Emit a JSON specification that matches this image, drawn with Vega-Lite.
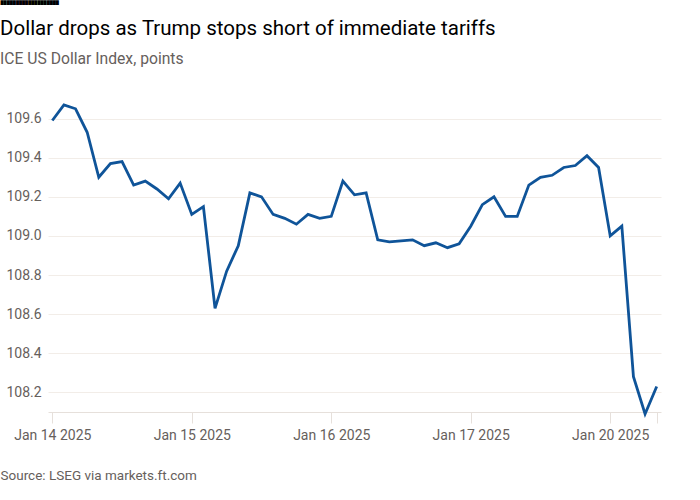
{
  "$schema": "https://vega.github.io/schema/vega-lite/v6.json",
  "autosize": {"type": "none"},
  "width": 613,
  "height": 313,
  "padding": {"left": 48, "top": 99, "right": 39, "bottom": 88},
  "background": "#ffffff",
  "title": {
    "text": "Dollar drops as Trump stops short of immediate tariffs",
    "subtitle": "ICE US Dollar Index, points",
    "anchor": "start",
    "frame": "group",
    "dx": -48,
    "offset": -67,
    "font": "Roboto",
    "fontSize": 20.5,
    "fontWeight": "normal",
    "color": "#000000",
    "subtitleFont": "Roboto",
    "subtitleFontSize": 15.7,
    "subtitleColor": "#66605c",
    "subtitlePadding": 13
  },
  "data": {
    "values": [
      {"time": "2025-01-14T00:00", "value": 109.59},
      {"time": "2025-01-14T02:00", "value": 109.67},
      {"time": "2025-01-14T04:00", "value": 109.65},
      {"time": "2025-01-14T06:00", "value": 109.53},
      {"time": "2025-01-14T08:00", "value": 109.30},
      {"time": "2025-01-14T10:00", "value": 109.37},
      {"time": "2025-01-14T12:00", "value": 109.38},
      {"time": "2025-01-14T14:00", "value": 109.26},
      {"time": "2025-01-14T16:00", "value": 109.28},
      {"time": "2025-01-14T18:00", "value": 109.24},
      {"time": "2025-01-14T20:00", "value": 109.19},
      {"time": "2025-01-14T22:00", "value": 109.27},
      {"time": "2025-01-15T00:00", "value": 109.11},
      {"time": "2025-01-15T02:00", "value": 109.15},
      {"time": "2025-01-15T04:00", "value": 108.63},
      {"time": "2025-01-15T06:00", "value": 108.82},
      {"time": "2025-01-15T08:00", "value": 108.95},
      {"time": "2025-01-15T10:00", "value": 109.22},
      {"time": "2025-01-15T12:00", "value": 109.20},
      {"time": "2025-01-15T14:00", "value": 109.11},
      {"time": "2025-01-15T16:00", "value": 109.09},
      {"time": "2025-01-15T18:00", "value": 109.06},
      {"time": "2025-01-15T20:00", "value": 109.11},
      {"time": "2025-01-15T22:00", "value": 109.09},
      {"time": "2025-01-16T00:00", "value": 109.10},
      {"time": "2025-01-16T02:00", "value": 109.28},
      {"time": "2025-01-16T04:00", "value": 109.21},
      {"time": "2025-01-16T06:00", "value": 109.22},
      {"time": "2025-01-16T08:00", "value": 108.98},
      {"time": "2025-01-16T10:00", "value": 108.97},
      {"time": "2025-01-16T12:00", "value": 108.975},
      {"time": "2025-01-16T14:00", "value": 108.98},
      {"time": "2025-01-16T16:00", "value": 108.95},
      {"time": "2025-01-16T18:00", "value": 108.965},
      {"time": "2025-01-16T20:00", "value": 108.94},
      {"time": "2025-01-16T22:00", "value": 108.96},
      {"time": "2025-01-17T00:00", "value": 109.05},
      {"time": "2025-01-17T02:00", "value": 109.16},
      {"time": "2025-01-17T04:00", "value": 109.20},
      {"time": "2025-01-17T06:00", "value": 109.10},
      {"time": "2025-01-17T08:00", "value": 109.10},
      {"time": "2025-01-17T10:00", "value": 109.26},
      {"time": "2025-01-17T12:00", "value": 109.30},
      {"time": "2025-01-17T14:00", "value": 109.31},
      {"time": "2025-01-17T16:00", "value": 109.35},
      {"time": "2025-01-17T18:00", "value": 109.36},
      {"time": "2025-01-17T20:00", "value": 109.41},
      {"time": "2025-01-17T22:00", "value": 109.35},
      {"time": "2025-01-20T00:00", "value": 109.00},
      {"time": "2025-01-20T02:00", "value": 109.05},
      {"time": "2025-01-20T04:00", "value": 108.28},
      {"time": "2025-01-20T06:00", "value": 108.09},
      {"time": "2025-01-20T08:00", "value": 108.23}
    ]
  },
  "mark": {"type": "line", "color": "#0f5499", "strokeWidth": 2.8, "strokeJoin": "miter", "clip": false},
  "encoding": {
    "x": {
      "field": "time",
      "type": "ordinal",
      "sort": null,
      "scale": {"type": "point", "padding": 0.37},
      "axis": {
        "values": ["2025-01-14T00:00", "2025-01-15T00:00", "2025-01-16T00:00", "2025-01-17T00:00", "2025-01-20T00:00", "2025-01-20T08:00"],
        "labelExpr": "datum.value == '2025-01-20T08:00' ? '' : 'Jan ' + substring(datum.value, 8, 10) + ' 2025'",
        "labelAngle": 0,
        "labelFont": "Roboto",
        "labelFontSize": 14,
        "labelColor": "#66605c",
        "labelPadding": 5,
        "tickSize": 11,
        "tickColor": "#e6e0db",
        "domainColor": "#e6e0db",
        "grid": false,
        "title": "Source: LSEG via markets.ft.com",
        "titleFont": "Roboto",
        "titleFontSize": 13.5,
        "titleFontWeight": "normal",
        "titleColor": "#66605c",
        "titleAlign": "left",
        "titleBaseline": "alphabetic",
        "titleX": -48,
        "titleY": 67
      }
    },
    "y": {
      "field": "value",
      "type": "quantitative",
      "scale": {"domain": [108.1, 109.7], "nice": false, "zero": false},
      "axis": {
        "values": [108.2, 108.4, 108.6, 108.8, 109.0, 109.2, 109.4, 109.6],
        "format": ".1f",
        "labelAlign": "left",
        "labelBaseline": "middle",
        "labelPadding": 42,
        "tickSize": 0,
        "domain": false,
        "grid": true,
        "gridColor": "#f2ede8",
        "gridWidth": 1,
        "labelFont": "Roboto",
        "labelFontSize": 14,
        "labelColor": "#66605c",
        "title": "███████████████████",
        "titleFont": "DejaVu Sans",
        "titleFontSize": 4,
        "titleColor": "#000000",
        "titleAngle": 0,
        "titleAlign": "left",
        "titleBaseline": "top",
        "titleX": -48,
        "titleY": -99
      }
    }
  },
  "config": {
    "view": {"stroke": null}
  }
}
